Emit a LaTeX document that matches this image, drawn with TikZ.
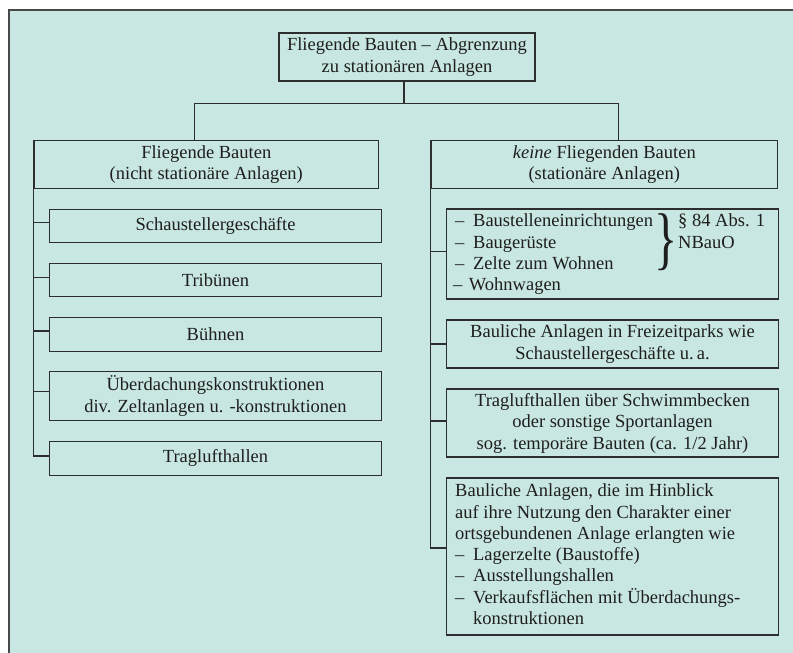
\documentclass[tikz,border=0pt]{standalone}
\usepackage{graphicx}
\usepackage{fontspec}
\setmainfont{Liberation Serif}
\definecolor{panel}{RGB}{201,231,226}
\definecolor{edge}{RGB}{45,45,45}
\definecolor{framec}{RGB}{72,72,72}
\definecolor{ink}{RGB}{30,30,30}
\begin{document}
\begin{tikzpicture}[x=1pt,y=-1pt,
  every node/.style={font=\fontsize{18.5}{21.5}\selectfont, text=ink},
  box/.style={draw=edge, line width=1.1pt, inner sep=0pt, align=center},
  link/.style={draw=edge, line width=1.1pt},
  txtline/.style={anchor=base west, inner sep=0pt}]
\useasboundingbox (0,0) rectangle (793,653);
\fill[white] (0,0) rectangle (793,653);
\draw[draw=framec, line width=1.8pt, fill=panel] (9,10) rectangle (812,672);

% root
\node[box, minimum width=256pt, minimum height=48pt] (top) at (407,57)
  {Fliegende Bauten -- Abgrenzung\\zu stationären Anlagen};

% two main branches
\node[box, minimum width=344.7pt, minimum height=47.6pt] (lh) at (206.3,164.4)
  {Fliegende Bauten\\(nicht stationäre Anlagen)};
\node[box, minimum width=346.7pt, minimum height=47.6pt] (rh) at (604.3,164.4)
  {\textit{keine} Fliegenden Bauten\\(stationäre Anlagen)};

\draw[link] ([xshift=-3pt]top.south) -- ++(0,22) coordinate (hub);
\draw[link] ([xshift=-12pt]lh.north) |- (hub) -| ([xshift=14pt]rh.north);

% left column
\tikzset{lbox/.style={box, minimum width=332.4pt}}
\node[lbox, minimum height=33.4pt] (l1) at (215.5,226) {Schaustellergeschäfte};
\node[lbox, minimum height=33.4pt] (l2) at (215.5,280) {Tribünen};
\node[lbox, minimum height=33.7pt] (l3) at (215.5,334.2) {Bühnen};
\node[lbox, minimum height=48.3pt] (l4) at (215.5,395.9)
  {Überdachungskonstruktionen\\div. Zeltanlagen u. -konstruktionen};
\node[lbox, minimum height=33.3pt] (l5) at (215.5,458.4) {Traglufthallen};

\coordinate (b1) at ([yshift=3.3pt]l1.west);
\coordinate (b2) at ([yshift=2.7pt]l2.west);
\coordinate (b3) at ([yshift=3.2pt]l3.west);
\coordinate (b4) at ([yshift=4.2pt]l4.west);
\coordinate (b5) at ([yshift=2.4pt]l5.west);
\draw[link] (lh.south west) |- (b5);
\foreach \b in {b1,b2,b3,b4}
  \draw[link] (lh.south west |- \b) -- (\b);

% right column
\tikzset{rbox/.style={box, minimum width=331.6pt}}
\node[rbox, minimum height=90pt] (r1) at (612.5,254) {};
\node[rbox, minimum height=48pt] (r2) at (612.5,344)
  {Bauliche Anlagen in Freizeitparks wie\\Schaustellergeschäfte u.\,a.};
\node[rbox, minimum height=68pt] (r3) at (612.5,423)
  {Traglufthallen über Schwimmbecken\\oder sonstige Sportanlagen\\sog. temporäre Bauten (ca. 1/2 Jahr)};
\node[rbox, minimum height=157pt] (r4) at (612.5,556.5) {};

\coordinate (c1) at ([yshift=2.3pt]r1.west);
\coordinate (c2) at (r2.west);
\coordinate (c3) at ([yshift=2pt]r3.west);
\coordinate (c4) at ([yshift=8.5pt]r4.west);
\draw[link] (rh.south west) |- (c4);
\foreach \c in {c1,c2,c3}
  \draw[link] (rh.south west |- \c) -- (\c);

% list with brace in the first right box
\node[txtline] (r1a) at (455,226.7) {\makebox[18pt][l]{--}Baustelleneinrichtungen};
\node[txtline] (r1b) at (455,248.0) {\makebox[18pt][l]{--}Baugerüste};
\node[txtline] (r1c) at (455,269.3) {\makebox[18pt][l]{--}Zelte zum Wohnen};
\node[txtline] (r1d) at (453,290.6) {--\hspace{6.5pt}Wohnwagen};
\node[inner sep=0pt] (brace) at (666.5,242.5)
  {\scalebox{0.7}[1]{\fontsize{69}{69}\selectfont\}}};
\node[txtline] (law1) at (678,226.7) {§ 84 Abs. 1};
\node[txtline] (law2) at (678,248.0) {NBauO};

% text of the last right box
\node[txtline] (r4a) at (455,496.7) {Bauliche Anlagen, die im Hinblick};
\node[txtline] (r4b) at (455,518.0) {auf ihre Nutzung den Charakter einer};
\node[txtline] (r4c) at (455,539.3) {ortsgebundenen Anlage erlangten wie};
\node[txtline] (r4d) at (455,560.6) {\makebox[18pt][l]{--}Lagerzelte (Baustoffe)};
\node[txtline] (r4e) at (455,581.9) {\makebox[18pt][l]{--}Ausstellungshallen};
\node[txtline] (r4f) at (455,603.2) {\makebox[18pt][l]{--}Verkaufsflächen mit Überdachungs-};
\node[txtline] (r4g) at (473,624.5) {konstruktionen};
\end{tikzpicture}
\end{document}
